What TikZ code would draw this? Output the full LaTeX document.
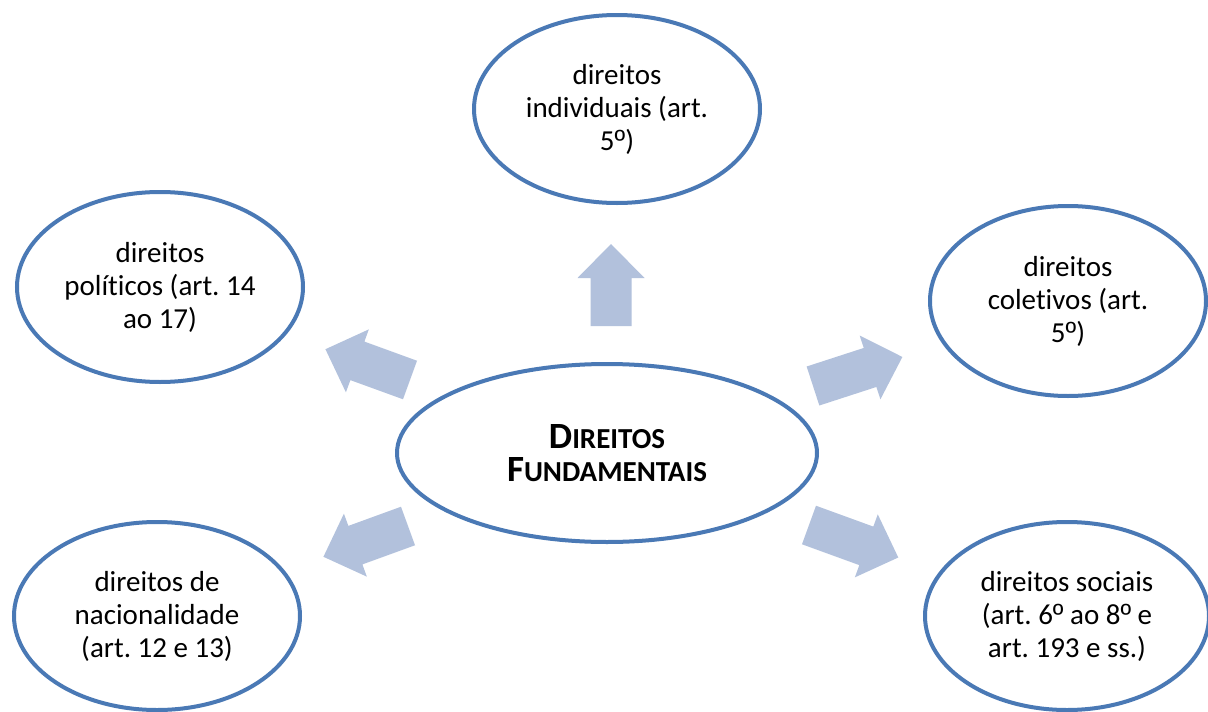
\documentclass[tikz,border=0pt]{standalone}
\usepackage{fontspec}
\setmainfont{Carlito}[Ligatures={NoCommon}]
\newfontfamily\ordfont{Liberation Sans}
\newcommand{\ordo}{{\ordfont º}}
\frenchspacing
\usetikzlibrary{shapes.geometric}
\definecolor{ringblue}{HTML}{4A79B5}
\definecolor{arrowfill}{HTML}{B2C1DC}
\tikzset{
  bub/.style={ellipse, draw=ringblue, line width=4pt, fill=white, inner sep=0pt,
    align=center, text=black, font={\fontsize{29}{33}\selectfont}},
  barrow/.pic={\pgfmathsetmacro\bL{#1}\pgfmathsetmacro\bB{#1-34}
    \fill[arrowfill] (0,-20.5) -- (\bB,-20.5) -- (\bB,-33.5) -- (\bL,0)
      -- (\bB,33.5) -- (\bB,20.5) -- (0,20.5) -- cycle;}
}
\begin{document}
\begin{tikzpicture}[x=1pt,y=-1pt]
\useasboundingbox (0,0) rectangle (1208,712);
\fill[white] (0,0) rectangle (1208,712);
% block arrows
\coordinate (aT) at (611,326);
\coordinate (aLT) at (410,380);
\coordinate (aRT) at (813,386);
\coordinate (aLB) at (408,526);
\coordinate (aRB) at (809,525);
\pic[rotate=90] at (aT) {barrow=82};
\pic[rotate=160] at (aLT) {barrow=90};
\pic[rotate=18] at (aRT) {barrow=94};
\pic[rotate=200] at (aLB) {barrow=90};
\pic[rotate=-20] at (aRB) {barrow=95};
% ellipses
\node[bub, minimum width=420, minimum height=178] (dir) at (607,453)
  {\bfseries\fontsize{37}{42}\selectfont D{\fontsize{29}{42}\selectfont IREITOS}\\
   \bfseries\fontsize{37}{42}\selectfont F{\fontsize{29}{42}\selectfont UNDAMENTAIS}};
\node[bub, minimum width=286, minimum height=188] (ind) at (617,109)
  {direitos\\individuais (art.\\5\ordo)};
\node[bub, minimum width=286, minimum height=190] (pol) at (160,287)
  {direitos\\políticos (art. 14\\ao 17)};
\node[bub, minimum width=276, minimum height=190] (col) at (1068,301)
  {direitos\\coletivos (art.\\5\ordo)};
\node[bub, minimum width=286, minimum height=188] (nac) at (157,616)
  {direitos de\\nacionalidade\\(art. 12 e 13)};
\node[bub, minimum width=284, minimum height=188] (soc) at (1067,616)
  {direitos sociais\\(art. 6\ordo{} ao 8\ordo{} e\\art. 193 e ss.)};
\end{tikzpicture}
\end{document}
